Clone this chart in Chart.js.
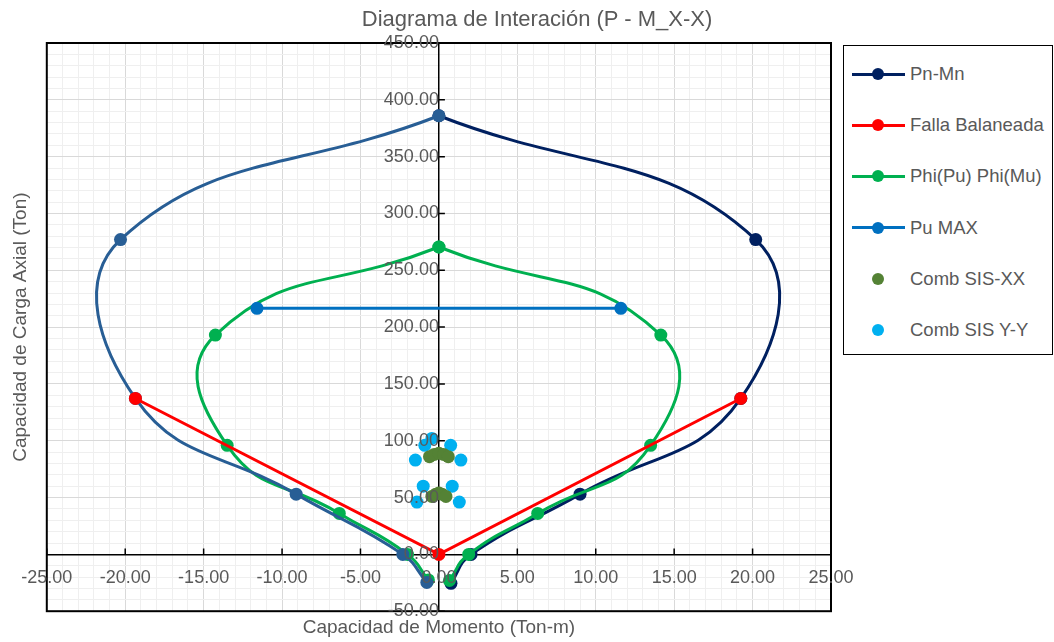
<!DOCTYPE html>
<html>

<head>
    <meta charset="UTF-8">
    <title>Diagrama de Interación (P - M_X-X)</title>
    <script src="https://cdn.jsdelivr.net/npm/chart.js"></script>
    <style>
        body { margin: 0; background: #fff; font-family: 'Liberation Sans', Arial, sans-serif; }
        #marco { position: relative; width: 1054px; height: 642px; }
        #titulo { position: absolute; top: 5px; left: 537px; transform: translateX(-50%); white-space: nowrap;
                  font-size: 22px; line-height: 28px; color: #595959; }
        #leyenda { position: absolute; left: 843px; top: 45px; width: 208px; height: 308px; border: 1px solid #000; background: #fff; }
        .item { position: absolute; left: 0; width: 208px; height: 20px; }
        .item .linea { position: absolute; left: 8px; top: 8.5px; width: 53px; height: 3px; }
        .item .punto { position: absolute; left: 28px; top: 4px; width: 12px; height: 12px; border-radius: 50%; }
        .item .texto { position: absolute; left: 66px; top: 0; font-size: 18.5px; line-height: 20px; color: #595959; white-space: nowrap; }
    </style>
</head>

<body>
    <div id="marco">
        <canvas id="diagrama" width="1054" height="642"></canvas>
        <div id="titulo">Diagrama de Interación (P - M_X-X)</div>
        <div id="leyenda"></div>
    </div>

    <script>
        // Ejes (Ton-m / Ton)
        var mMin = -25, mMax = 25, mPaso = 1, mMayor = 5;
        var pMin = -50, pMax = 450, pPaso = 10, pMayor = 50;

        // Pn-Mn (lado derecho); el punto de falla balanceada queda bajo el marcador rojo
        var pnMnM = [0, 20.2, 19.25, 9.0, 2.05, 0.77];
        var pnMnP = [386, 277, 137.2, 53, 0, -25.5];
        // Pn-Mn (lado izquierdo, sin leyenda)
        var pnMnIzqM = [0, -20.3, -19.35, -9.1, -2.3, -0.77];
        var pnMnIzqP = [386, 277, 137.2, 53, 0, -24.7];

        // Falla balanceada
        var fallaM = [-19.35, 0, 19.25];
        var fallaP = [137.2, 0, 137.2];

        // Phi(Pu) Phi(Mu) (derecha / izquierda)
        var phiM = [0, 14.15, 13.5, 6.3, 1.9, 0.67];
        var phiP = [270.5, 193, 96, 36, 0, -23];
        var phiIzqM = [0, -14.25, -13.5, -6.35, -2.0, -0.67];
        var phiIzqP = [270.5, 193, 96, 36, 0, -22.5];

        // Pu MAX
        var puMaxM = [-11.6, 11.6];
        var puMaxP = [216.5, 216.5];

        // Combinaciones sismicas
        var combXXM = [-0.6, -0.3, 0, 0.3, 0.6, -0.45, -0.2, 0, 0.2, 0.45];
        var combXXP = [86, 88, 89, 88, 86, 51, 53, 54, 53, 51];
        var combYYM = [-0.45, -0.9, 0.75, -1.5, 1.4, -1.0, 0.85, -1.4, 1.3];
        var combYYP = [102, 96, 96, 83, 83, 60, 60, 46, 46];

        function puntos(m, p) {
            return m.map(function (v, i) { return { x: v, y: p[i] }; });
        }

        function serie(label, m, p, color, tension, orden, conLinea) {
            return {
                label: label,
                data: puntos(m, p),
                showLine: conLinea,
                borderColor: color,
                backgroundColor: color,
                borderWidth: 3,
                tension: tension,
                pointRadius: 6.5,
                pointHoverRadius: 6.5,
                pointBorderWidth: 0,
                pointBackgroundColor: color,
                order: orden
            };
        }

        var datasets = [
            serie('Pn-Mn', pnMnM, pnMnP, '#002060', 0.45, 7, true),
            serie('Falla Balaneada', fallaM, fallaP, '#FF0000', 0, 3, true),
            serie('Phi(Pu) Phi(Mu)', phiM, phiP, '#00B050', 0.5, 6, true),
            serie('Pu MAX', puMaxM, puMaxP, '#0070C0', 0, 2, true),
            serie('Comb SIS-XX', combXXM, combXXP, '#548235', 0, 0, false),
            serie('Comb SIS Y-Y', combYYM, combYYP, '#00B0F0', 0, 1, false),
            serie('', pnMnIzqM, pnMnIzqP, '#285E95', 0.45, 4, true),
            serie('', phiIzqM, phiIzqP, '#00B050', 0.5, 5, true)
        ];

        // borde del area de trazado y marcas de division hacia adentro
        var bordeArea = {
            id: 'bordeArea',
            beforeDatasetsDraw: function (chart) {
                var sx = chart.scales.x, sy = chart.scales.y, ctx = chart.ctx;
                var x0 = sx.getPixelForValue(0), y0 = sy.getPixelForValue(0);
                ctx.save();
                ctx.strokeStyle = '#000';
                ctx.lineWidth = 1.5;
                ctx.beginPath();
                for (var m = mMin; m <= mMax; m += mMayor) {
                    ctx.moveTo(sx.getPixelForValue(m), y0);
                    ctx.lineTo(sx.getPixelForValue(m), y0 - 6);
                }
                for (var p = pMin; p <= pMax; p += pMayor) {
                    ctx.moveTo(x0, sy.getPixelForValue(p));
                    ctx.lineTo(x0 + 6, sy.getPixelForValue(p));
                }
                ctx.stroke();
                ctx.restore();
            },
            afterDatasetsDraw: function (chart) {
                var a = chart.chartArea, ctx = chart.ctx;
                ctx.save();
                ctx.strokeStyle = '#000';
                ctx.lineWidth = 2;
                ctx.strokeRect(a.left, a.top, a.right - a.left, a.bottom - a.top);
                ctx.restore();
            }
        };

        function colorGrilla(mayor) {
            return function (c) {
                return c.tick && c.tick.value % mayor === 0 ? '#d9d9d9' : '#efefef';
            };
        }

        Chart.defaults.font.family = "'Liberation Sans', Arial, sans-serif";
        Chart.defaults.color = '#595959';

        var ctx = document.getElementById('diagrama').getContext('2d');
        var diagrama = new Chart(ctx, {
            type: 'scatter',
            data: { datasets: datasets },
            plugins: [bordeArea],
            options: {
                responsive: false,
                animation: false,
                events: [],
                layout: { padding: { left: 4, right: 223, top: 43, bottom: 2 } },
                plugins: { legend: { display: false }, tooltip: { enabled: false }, title: { display: false } },
                scales: {
                    x: {
                        type: 'linear', position: { y: 0 }, min: mMin, max: mMax,
                        ticks: {
                            stepSize: mPaso, autoSkip: false, maxRotation: 0, minRotation: 0, padding: 13, z: 1,
                            font: { size: 18 },
                            callback: function (v) { return v % mMayor === 0 ? v.toFixed(2) : ''; }
                        },
                        grid: { drawTicks: false, color: colorGrilla(mMayor), lineWidth: 1 },
                        border: { display: true, color: '#000', width: 1.5 }
                    },
                    y: {
                        type: 'linear', position: { x: 0 }, min: pMin, max: pMax,
                        ticks: {
                            stepSize: pPaso, autoSkip: false, padding: 15, z: 1,
                            font: { size: 18 },
                            callback: function (v) { return v % pMayor === 0 ? v.toFixed(2) : ''; }
                        },
                        grid: { drawTicks: false, color: colorGrilla(pMayor), lineWidth: 1 },
                        border: { display: true, color: '#000', width: 1.5 }
                    },
                    xt: {
                        type: 'linear', position: 'bottom', min: 0, max: 1,
                        grid: { display: false, drawTicks: false }, border: { display: false }, ticks: { display: false },
                        title: { display: true, text: 'Capacidad de Momento (Ton-m)', font: { size: 19 }, padding: { top: 5, bottom: 1 } }
                    },
                    yt: {
                        type: 'linear', position: 'left', min: 0, max: 1,
                        grid: { display: false, drawTicks: false }, border: { display: false }, ticks: { display: false },
                        title: { display: true, text: 'Capacidad de Carga Axial (Ton)', font: { size: 19 }, padding: { top: 5, bottom: 15 } }
                    }
                }
            }
        });

        // leyenda a la derecha
        var leyenda = document.getElementById('leyenda');
        datasets.slice(0, 6).forEach(function (d, i) {
            var item = document.createElement('div');
            item.className = 'item';
            item.style.top = (18 + i * 51.2) + 'px';
            item.innerHTML = (d.showLine ? '<span class="linea" style="background:' + d.borderColor + '"></span>' : '') +
                '<span class="punto" style="background:' + d.borderColor + '"></span>' +
                '<span class="texto">' + d.label + '</span>';
            leyenda.appendChild(item);
        });
    </script>
</body>

</html>
